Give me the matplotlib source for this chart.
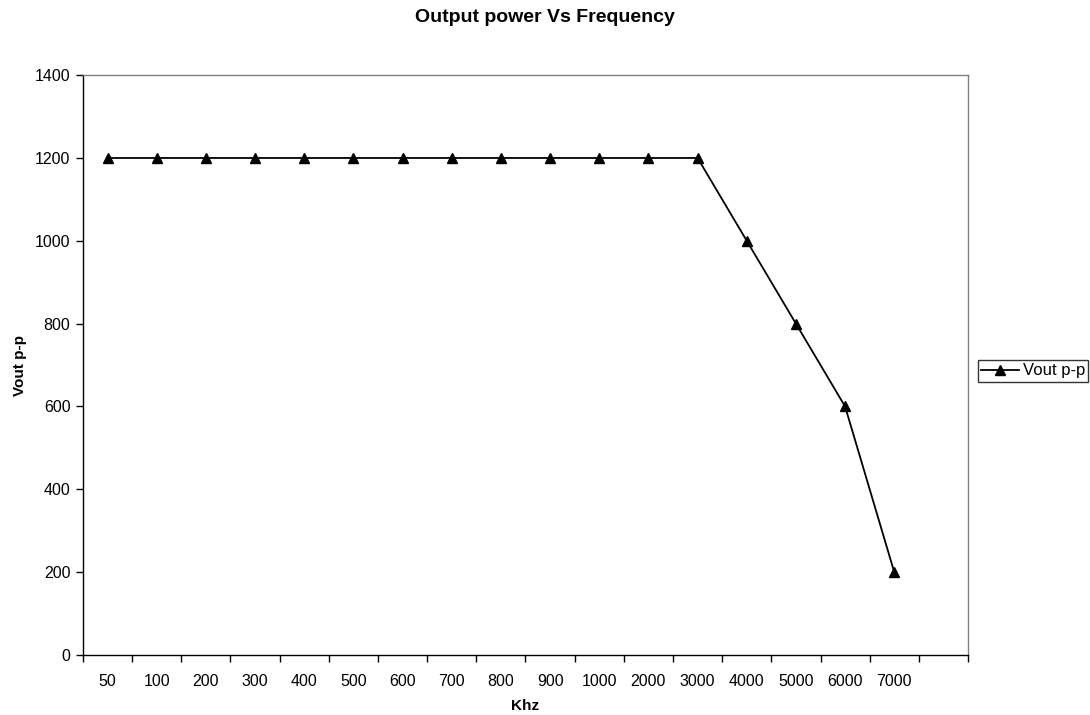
import matplotlib
matplotlib.use("Agg")
import matplotlib.pyplot as plt
import numpy as np

plt.rcParams["font.family"] = ["Liberation Sans", "DejaVu Sans"]

# categories on the x axis (one empty slot at the end, as in the original)
freq_labels = ["50", "100", "200", "300", "400", "500", "600", "700", "800",
               "900", "1000", "2000", "3000", "4000", "5000", "6000", "7000"]
vout = [1200, 1200, 1200, 1200, 1200, 1200, 1200, 1200, 1200,
        1200, 1200, 1200, 1200, 1000, 800, 600, 200]
n_slots = len(freq_labels) + 1

fig = plt.figure(figsize=(10.9, 7.15), dpi=100)
ax = fig.add_axes([0.0761, 0.0839, 0.812, 0.811])

x = np.arange(len(freq_labels))
ax.plot(x, vout, color="black", linewidth=1.3, marker="^", markersize=7.5,
        label="Vout p-p")

ax.set_xlim(-0.5, n_slots - 0.5)
ax.set_ylim(0, 1400)
ax.set_yticks(np.arange(0, 1401, 200))
ax.set_xticks(x)
ax.set_xticklabels(freq_labels)
ax.set_xticks(np.arange(-0.5, n_slots, 1), minor=True)
ax.tick_params(axis="x", which="major", length=0, pad=14, labelsize=11.5)
ax.tick_params(axis="x", which="minor", length=5, width=1, color="black", direction="out")
ax.tick_params(axis="y", length=5, width=1, direction="out", labelsize=11.5, pad=4)

for s in ["top", "right"]:
    ax.spines[s].set_color("#808080")
    ax.spines[s].set_linewidth(1)
for s in ["left", "bottom"]:
    ax.spines[s].set_color("black")
    ax.spines[s].set_linewidth(1)

ax.set_xlabel("Khz", fontsize=11, fontweight="bold")
ax.xaxis.set_label_coords(0.5, -0.075)
ax.set_ylabel("Vout p-p", fontsize=11, fontweight="bold")
ax.yaxis.set_label_coords(-0.063, 0.5)
fig.text(0.5, 1 - 18 / 715, "Output power Vs Frequency", fontsize=14,
         fontweight="bold", ha="center", va="center")

leg = ax.legend(loc="center left", bbox_to_anchor=(1.011, 0.49), frameon=True,
                fancybox=False, edgecolor="black", fontsize=12, handlelength=2.3,
                handletextpad=0.2, borderpad=0.2, borderaxespad=0)
leg.get_frame().set_linewidth(1)

fig.savefig("out.png", dpi=100)
